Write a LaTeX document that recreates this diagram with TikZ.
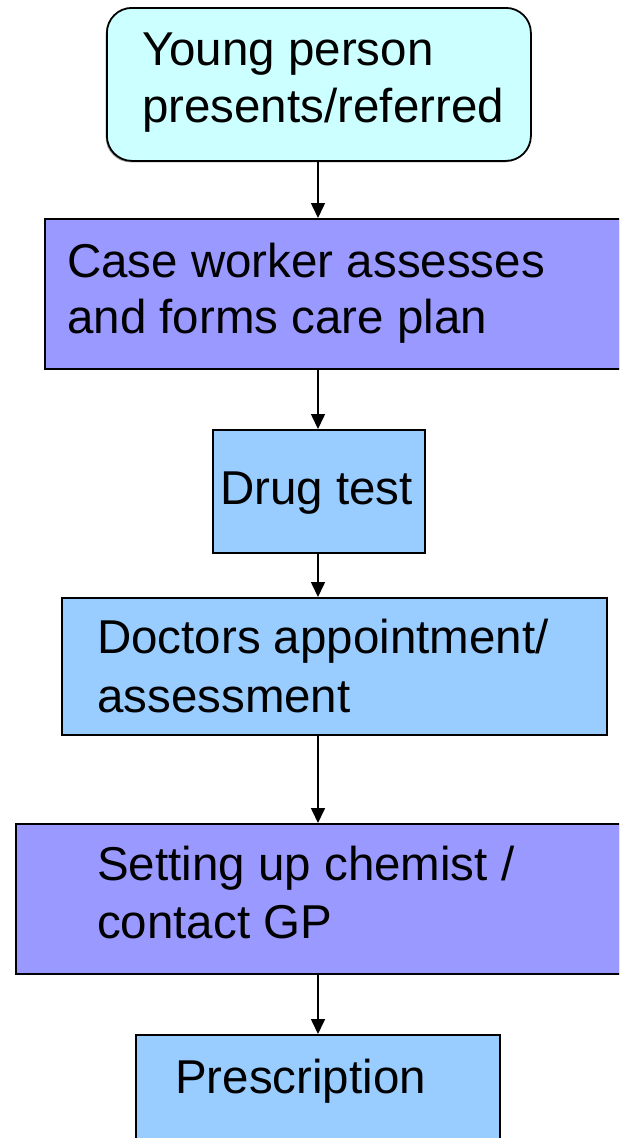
\documentclass[tikz,border=0pt]{standalone}
\usepackage{fontspec}
\setmainfont{Liberation Sans}
\usetikzlibrary{arrows.meta,shadows}
\definecolor{cyanbox}{HTML}{CCFFFF}
\definecolor{purplebox}{HTML}{9999FF}
\definecolor{bluebox}{HTML}{99CCFF}
\tikzset{
  box/.style={draw=black, line width=1.8pt, inner sep=0pt, anchor=north west,
    general shadow={shadow xshift=-1.2pt, shadow yshift=-1.5pt, fill=gray!70}},
  lbl/.style={anchor=base west, inner sep=0pt, font=\fontsize{47.5}{57}\selectfont},
  arr/.style={line width=1.6pt, -{Triangle[length=15pt,width=14pt]}}
}
\begin{document}
\begin{tikzpicture}[x=1pt,y=-1pt]
\useasboundingbox (0,0) rectangle (619,1138);
\clip (0,0) rectangle (619,1138);
\fill[white] (0,0) rectangle (619,1138);
% boxes
\node[box, fill=cyanbox, rounded corners=25pt, minimum width=424pt, minimum height=153pt] (b1) at (106,7) {};
\node[box, fill=purplebox, minimum width=600pt, minimum height=150pt] (b2) at (44,218) {};
\node[box, fill=bluebox, minimum width=212pt, minimum height=123pt] (b3) at (212,429) {};
\node[box, fill=bluebox, minimum width=545pt, minimum height=137pt] (b4) at (61,597) {};
\node[box, fill=purplebox, minimum width=630pt, minimum height=150pt] (b5) at (15,823) {};
\node[box, fill=bluebox, minimum width=364pt, minimum height=140pt] (b6) at (135,1034) {};
% labels
\node[lbl] (t1a) at (142,65) {Young person};
\node[lbl] (t1b) at (142,122) {presents/referred};
\node[lbl] (t2a) at (67,277) {Case worker assesses};
\node[lbl] (t2b) at (67,333) {and forms care plan};
\node[lbl] (t3a) at (220,504) {Drug test};
\node[lbl] (t4a) at (97,653) {Doctors appointment/};
\node[lbl] (t4b) at (97,712) {assessment};
\node[lbl] (t5a) at (97,880) {Setting up chemist /};
\node[lbl] (t5b) at (97,938) {contact GP};
\node[lbl] (t6a) at (175,1093) {Prescription};
% connectors
\coordinate (ax) at (318,0);
\draw[arr] (b1.south -| ax) -- (b2.north -| ax);
\draw[arr] (b2.south -| ax) -- (b3.north -| ax);
\draw[arr] (b3.south -| ax) -- (b4.north -| ax);
\draw[arr] (b4.south -| ax) -- (b5.north -| ax);
\draw[arr] (b5.south -| ax) -- (b6.north -| ax);
\end{tikzpicture}
\end{document}
